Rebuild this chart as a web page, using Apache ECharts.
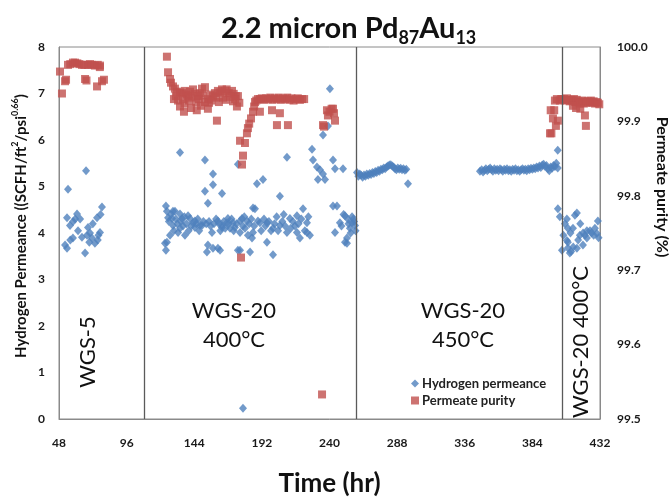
<!DOCTYPE html>
<html>
<head>
<meta charset="utf-8">
<script src="https://cdn.jsdelivr.net/npm/echarts@6/dist/echarts.min.js"></script>
<style>html,body{margin:0;padding:0;background:#fff}#c{width:672px;height:502px}</style>
</head>
<body>
<div id="c"></div>
<script>
// ---- data (hours, value) ----
const xTickHours = [48, 96, 144, 192, 240, 288, 336, 384, 432];
const phaseBoundaries = [108.3, 258.8, 405];

// Hydrogen permeance (SCFH/ft2/psi^0.66)
const h2Wgs5 = [[52.3,3.74],[53.7,3.67],[54.4,4.94],[53.7,4.33],[55.8,4.16],[57.9,3.89],[60.8,4.41],[58.0,4.25],[61.5,4.05],[64.3,3.91],[66.5,3.57],[67.2,5.34],[67.9,3.95],[68.6,4.12],[70.0,4.00],[71.4,3.89],[72.0,4.20],[73.5,3.78],[75.0,4.33],[75.5,3.85],[77.1,4.01],[77.5,4.40],[78.5,4.56],[76.0,3.95],[63.0,4.30],[56.0,3.85],[59.5,4.30],[69.5,3.80]];
const h2Wgs20a = [[123.9,4.58],[124.6,4.47],[128.9,4.47],[125.4,4.33],[133.9,4.41],[139.6,4.37],[143.1,4.22],[148.1,4.16],[128.9,4.16],[133.9,4.10],[126.8,3.95],[123.2,3.78],[123.9,3.63],[137.4,3.95],[133.9,5.73],[151.6,5.57],[157.3,5.27],[157.3,5.04],[151.6,4.90],[163.7,4.85],[153.7,4.64],[153.0,3.59],[157.3,3.67],[162.3,3.63],[167.2,4.22],[171.5,4.22],[176.5,4.26],[181.4,4.26],[163.7,4.16],[169.4,4.10],[176.5,4.01],[177.9,4.31],[182.1,3.95],[176.5,3.63],[183.6,3.59],[185.7,4.54],[188.5,5.06],[192.8,5.15],[185.7,4.01],[190.6,4.22],[195.6,4.22],[199.9,4.10],[199.9,3.53],[195.6,3.80],[204.8,4.79],[204.8,4.16],[209.8,4.01],[209.8,5.63],[211.9,4.31],[216.9,4.37],[216.9,4.01],[219.0,3.89],[224.0,4.22],[224.0,4.01],[221.2,4.52],[226.1,3.95],[227.6,5.80],[228.3,5.57],[231.1,5.42],[233.2,5.36],[235.4,5.27],[231.8,5.15],[236.8,5.15],[235.4,6.11],[240.3,7.10],[238.9,6.30],[242.5,5.57],[243.9,5.38],[245.3,4.58],[249.6,5.38],[243.9,4.01],[247.4,4.22],[251.0,4.37],[252.4,3.89],[255.9,4.22],[258.1,4.16],[251.0,3.80],[178.6,0.23],[128.2,4.31],[135.3,4.31],[144.5,4.26],[149.5,4.16],[160.8,4.26],[167.9,4.31],[172.9,4.12],[180.0,4.10],[187.1,4.52],[189.2,4.26],[130.3,4.47],[132.5,4.01],[156.6,4.01],[163.7,4.12],[185.0,3.89],[124.6,3.80],[153.7,3.74],[160.8,3.67],[175.0,3.63],[144.5,4.12],[141.0,4.31],[175.0,5.48],[242.5,4.58],[252.4,3.78],[253.0,4.30],[254.5,4.10],[256.0,4.35],[257.5,4.25],[258.5,4.05],
[126.0,4.25],[127.5,4.40],[129.5,4.05],[131.0,4.30],[132.0,4.20],[134.5,4.25],[136.0,4.15],[137.0,4.35],[138.5,4.20],[140.0,4.05],[142.0,4.15],[145.5,4.20],[146.5,4.30],[147.5,4.05],[150.5,4.25],[152.5,4.20],[154.5,4.25],[155.5,4.15],[158.0,4.20],[159.5,4.30],[161.5,4.20],[162.5,4.05],[165.0,4.25],[166.0,4.10],[168.5,4.20],[170.5,4.30],[172.0,4.05],[174.0,4.20],[178.5,4.15],[179.5,4.35],[183.0,4.20],[184.5,4.30],[186.5,4.15],[191.5,4.05],[193.5,4.30],[194.5,4.15],[197.0,4.25],[198.5,4.05],[201.0,4.20],[202.5,4.35],[203.5,4.05],[206.5,4.25],[207.5,4.40],[208.5,4.15],[212.5,4.10],[214.0,4.25],[215.5,4.15],[218.0,4.20],[220.0,4.30],[222.5,4.05],[225.0,4.35],[248.5,4.15],[250.0,4.40],[253.5,4.20],[255.0,4.00],[257.0,4.30]];
const h2Wgs20_450 = [[259.5,5.30],[260.5,5.22],[261.5,5.27],[262.5,5.24],[263.5,5.20],[264.5,5.25],[265.5,5.22],[266.5,5.27],[267.5,5.24],[268.5,5.28],[269.5,5.26],[270.5,5.30],[271.5,5.28],[272.5,5.32],[273.5,5.30],[274.5,5.35],[275.5,5.33],[276.5,5.37],[277.5,5.36],[278.5,5.40],[279.5,5.38],[280.5,5.42],[281.5,5.44],[282.5,5.46],[283.5,5.47],[284.5,5.44],[285.5,5.42],[286.5,5.38],[287.5,5.36],[288.5,5.40],[289.5,5.37],[290.5,5.39],[291.5,5.36],[292.5,5.38],[293.5,5.35],[294.5,5.37],[295.7,5.06],
[346.8,5.33],[348,5.36],[349,5.31],[350,5.35],[351,5.38],[352,5.34],[353,5.37],[354,5.40],[355,5.36],[356,5.33],[357,5.38],[358,5.35],[359,5.37],[360,5.34],[361,5.38],[362,5.36],[363,5.33],[364,5.37],[365,5.35],[366,5.38],[367,5.34],[368,5.36],[369,5.33],[370,5.37],[371,5.35],[372,5.38],[373,5.34],[374,5.36],[375,5.33],[376,5.36],[377,5.38],[378,5.35],[379,5.37],[380,5.34],[381,5.38],[382,5.36],[383,5.39],[384,5.37],[385,5.40],[386,5.38],[387,5.42],[388,5.40],[389,5.44],[390,5.41],[391,5.46],[392,5.48],[393,5.43],[394,5.45],[395,5.38],[396,5.34],[397,5.42],[398,5.39],[399,5.45],[400,5.43],[401,5.50],[402,5.78],[402,5.40]];
const h2Wgs20b = [[402.1,4.52],[403.5,4.35],[405.0,3.63],[406.0,3.95],[408.5,4.30],[409.2,4.10],[408.5,3.84],[409.2,3.68],[410.6,3.57],[411.0,4.00],[412.8,4.10],[414.2,4.38],[415.6,4.43],[415.6,3.67],[417.7,3.95],[419.9,3.74],[420.0,4.00],[421.3,3.95],[422.7,3.89],[422.7,4.05],[424.9,4.05],[426.0,4.00],[427.5,3.95],[428.4,4.10],[429.8,3.99],[430.5,4.26],[431.0,3.90],[413.0,3.70],[418.0,4.20],[407.1,4.20],[411.5,3.60],[416.5,3.85],[409.2,3.80]];

// Permeate purity (%)
const purityWgs5 = [[48.7,99.967],[50.1,99.9375],[52.3,99.954],[53.0,99.956],[54.4,99.976],[56.0,99.977],[57.9,99.979],[59.4,99.979],[61.0,99.978],[62.5,99.977],[64.3,99.976],[66.0,99.976],[66.5,99.957],[67.5,99.955],[68.6,99.976],[70.0,99.977],[71.4,99.976],[73.5,99.975],[75.0,99.947],[75.5,99.976],[77.1,99.975],[78.5,99.954],[79.9,99.956],[77.0,99.973]];
const purityWgs20a = [[124.6,99.987],[125.4,99.966],[126.8,99.957],[127.5,99.952],[128.9,99.947],[130.3,99.944],[131.7,99.940],[133.9,99.939],[133.9,99.920],[135.3,99.938],[137.4,99.941],[138.5,99.936],[139.6,99.934],[141.0,99.940],[143.1,99.943],[144.5,99.937],[146.6,99.934],[148.0,99.938],[149.5,99.944],[151.6,99.946],[151.6,99.926],[153.7,99.930],[153.7,99.917],[155.5,99.936],[157.3,99.934],[158.7,99.938],[160.1,99.901],[160.8,99.941],[162.5,99.939],[163.7,99.943],[165.8,99.941],[167.0,99.943],[168.5,99.938],[170.8,99.941],[172.0,99.937],[173.5,99.934],[174.3,99.920],[175.0,99.934],[176.0,99.925],[176.5,99.874],[177.2,99.717],[177.9,99.842],[178.6,99.854],[180.0,99.871],[181.4,99.884],[182.1,99.891],[183.0,99.897],[184.3,99.904],[185.7,99.913],[186.5,99.920],[187.1,99.926],[188.0,99.928],[189.2,99.930],[190.6,99.930],[190.6,99.913],[192.0,99.931],[193.5,99.929],[195.0,99.931],[196.5,99.930],[198.0,99.932],[199.2,99.915],[199.5,99.929],[201.0,99.931],[202.5,99.930],[202.7,99.895],[204.0,99.932],[204.8,99.911],[205.5,99.929],[207.0,99.931],[208.5,99.930],[210.0,99.932],[210.5,99.895],[211.5,99.929],[213.0,99.931],[214.5,99.928],[216.0,99.930],[217.5,99.931],[219.0,99.929],[220.5,99.930],[222.0,99.930],[234.7,99.533],[235.4,99.895],[236.1,99.893],[238.2,99.915],[238.9,99.908],[240.0,99.913],[241.5,99.917],[242.5,99.917],[243.2,99.911],[243.9,99.901],
[129.6,99.930],[131.0,99.934],[132.5,99.928],[136.0,99.930],[137.0,99.924],[140.3,99.928],[142.0,99.932],[145.5,99.926],[147.3,99.930],[150.2,99.935],[154.5,99.925],[156.3,99.928],[159.5,99.932],[161.5,99.926],[164.4,99.932],[166.3,99.929],[169.4,99.933],[171.5,99.927],[173.0,99.930],[136.7,99.913],[141.7,99.918],[145.8,99.915],[148.8,99.921]];
const purityWgs20b = [[396.5,99.884],[397.5,99.884],[397.0,99.915],[398.6,99.904],[399.5,99.915],[400.0,99.928],[400.7,99.894],[401.4,99.930],[402.1,99.901],[403.5,99.928],[404.5,99.930],[405.5,99.929],[406.5,99.930],[407.5,99.928],[408.5,99.931],[409.5,99.929],[410.5,99.927],[411.5,99.929],[412.5,99.928],[413.5,99.930],[414.5,99.926],[415.5,99.929],[416.5,99.927],[417.5,99.924],[418.5,99.926],[419.5,99.928],[420.5,99.924],[421.5,99.927],[422.5,99.925],[423.5,99.927],[424.5,99.926],[425.5,99.928],[426.5,99.925],[427.5,99.927],[428.5,99.924],[429.5,99.926],[430.5,99.925],[431.5,99.923],[412.8,99.921],[418.0,99.917],[421.3,99.908],[422.0,99.894],[415.0,99.918]];

const permeance = [].concat(h2Wgs5, h2Wgs20a, h2Wgs20_450, h2Wgs20b);
const purity = [].concat(purityWgs5, purityWgs20a, purityWgs20b);

const FONT = 'Lato';
const chart = echarts.init(document.getElementById('c'), null, {renderer: 'canvas'});
const axisLineStyle = {color: '#8a8a8a', width: 1};
const tickLabel = {fontFamily: FONT, fontWeight: 'bold', fontSize: 12, color: '#1a1a1a'};

chart.setOption({
  animation: false,
  backgroundColor: '#fff',
  title: {
    text: '2.2 micron Pd{s|87}Au{s|13}',
    left: 216, top: 6,
    textStyle: {
      fontFamily: FONT, fontWeight: 'bold', fontSize: 29, color: '#111', lineHeight: 36,
      rich: { s: {fontFamily: FONT, fontWeight: 'bold', fontSize: 18, color: '#111', lineHeight: 12, verticalAlign: 'bottom'} }
    }
  },
  grid: {left: 59, right: 72, top: 47, bottom: 74, show: true, borderColor: '#8a8a8a', borderWidth: 1, containLabel: false},
  legend: {
    orient: 'vertical', left: 406, top: 372, itemWidth: 8, itemHeight: 8, itemGap: 4,
    textStyle: {fontFamily: FONT, fontWeight: 'bold', fontSize: 13, color: '#222', padding: [0,0,0,-2]},
    data: [{name: 'Hydrogen permeance', icon: 'diamond'}, {name: 'Permeate purity', icon: 'rect'}]
  },
  xAxis: {
    type: 'value', min: xTickHours[0], max: xTickHours[xTickHours.length-1], interval: 48,
    name: 'Time (hr)', nameLocation: 'middle', nameGap: 52,
    nameTextStyle: {fontFamily: FONT, fontWeight: 'bold', fontSize: 26, color: '#111'},
    axisLine: {lineStyle: axisLineStyle}, axisTick: {show: false}, splitLine: {show: false},
    axisLabel: Object.assign({margin: 18}, tickLabel)
  },
  yAxis: [{
    type: 'value', min: 0, max: 8, interval: 1,
    axisLine: {show: true, lineStyle: axisLineStyle}, axisTick: {show: false}, splitLine: {show: false},
    axisLabel: Object.assign({margin: 14}, tickLabel)
  }, {
    type: 'value', min: 99.5, max: 100, interval: 0.1, position: 'right',
    axisLine: {show: true, lineStyle: axisLineStyle}, axisTick: {show: false}, splitLine: {show: false},
    axisLabel: Object.assign({margin: 17, formatter: v => v.toFixed(1)}, tickLabel)
  }],
  graphic: [
    {type: 'text', x: 21, y: 226, rotation: Math.PI/2, style: {
      text: 'Hydrogen Permeance ((SCFH/ft{p|2}/psi{p|0.66})', font: 'bold 15px Lato', fill: '#111', align: 'center', verticalAlign: 'middle', lineHeight: 20,
      rich: {p: {font: 'bold 9px Lato', fill: '#111', lineHeight: 12, verticalAlign: 'top'}}}},
    {type: 'text', x: 662, y: 187, rotation: -Math.PI/2, style: {text: 'Permeate purity (%)', font: 'bold 16px Lato', fill: '#111', align: 'center', verticalAlign: 'middle'}},
    {type: 'text', x: 88, y: 352, rotation: Math.PI/2, style: {text: 'WGS-5', font: '22px Lato', fill: '#111', align: 'center', verticalAlign: 'middle'}},
    {type: 'text', x: 234, y: 325, style: {text: 'WGS-20\n400°C', font: '22px Lato', lineHeight: 29, fill: '#111', align: 'center', verticalAlign: 'middle'}},
    {type: 'text', x: 463, y: 325, style: {text: 'WGS-20\n450°C', font: '22px Lato', lineHeight: 29, fill: '#111', align: 'center', verticalAlign: 'middle'}},
    {type: 'text', x: 581, y: 342, rotation: Math.PI/2, style: {text: 'WGS-20 400°C', font: '22px Lato', fill: '#111', align: 'center', verticalAlign: 'middle'}}
  ],
  series: [{
    name: 'Hydrogen permeance', type: 'scatter', yAxisIndex: 0, symbol: 'diamond', symbolSize: [8, 9],
    itemStyle: {color: '#4F81BD'}, data: permeance,
    markLine: {silent: true, symbol: 'none', label: {show: false},
      lineStyle: {color: '#5a5a5a', type: 'solid', width: 1.3},
      data: phaseBoundaries.map(h => ({xAxis: h}))}
  }, {
    name: 'Permeate purity', type: 'scatter', yAxisIndex: 1, symbol: 'rect', symbolSize: 8,
    itemStyle: {color: '#C0504D'}, data: purity
  }]
});
</script>
</body>
</html>
